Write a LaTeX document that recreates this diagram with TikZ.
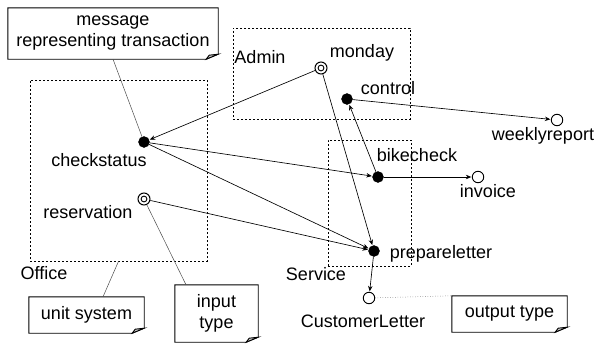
\documentclass[tikz,border=0pt]{standalone}
\usepackage{fontspec}
\setmainfont{Liberation Sans}
\usetikzlibrary{arrows.meta}

% note outline with a folded bottom-right corner
\newcommand\dogear[1]{%
  \draw[noteline] (#1.north west) -- (#1.north east) -- ([yshift=5pt]#1.south east)
    -- ([xshift=-12pt]#1.south east) -- (#1.south west) -- cycle;
  \filldraw[noteline, fill=gray!40] ([xshift=-12pt]#1.south east)
    -- ([xshift=-9pt,yshift=4pt]#1.south east) -- ([yshift=5pt]#1.south east) -- cycle;}

\begin{document}
\begin{tikzpicture}[x=1pt,y=-1pt,
  txt/.style={font=\fontsize{18}{21}\selectfont},
  lbl/.style={txt, anchor=base, inner sep=0},
  grp/.style={draw=black, dash pattern=on 2.4pt off 1.6pt, line width=0.7pt, inner sep=0},
  full/.style={circle, fill=black, draw=black, minimum size=11pt, inner sep=0},
  hollow/.style={circle, fill=white, draw=black, line width=0.9pt, minimum size=11.5pt, inner sep=0},
  twin/.style={circle, fill=white, draw=black, line width=1pt, minimum size=12pt, inner sep=0,
    path picture={\draw[line width=0.9pt] (path picture bounding box.center) circle (2.9pt);}},
  flow/.style={draw=black, line width=0.65pt, -{Stealth[length=5.5pt,width=4.5pt]}, shorten >=0.5pt},
  notebox/.style={txt, align=center, inner sep=0},
  noteline/.style={draw=black, line width=0.9pt, line join=miter},
  notelink/.style={draw=gray!60!black, line width=0.5pt},
]
\useasboundingbox (0,0) rectangle (597,343);

% unit boxes
\node[grp, minimum width=177pt, minimum height=181pt] (office) at (118.5,170.5) {};
\node[grp, minimum width=177pt, minimum height=91pt] (admin) at (321.5,73.5) {};
\node[grp, minimum width=83pt, minimum height=126pt] (service) at (369.5,203) {};

\node[lbl] (officeL) at (44,279) {Office};
\node[lbl] (adminL) at (260,63.5) {Admin};
\node[lbl] (serviceL) at (316,280) {Service};

% transactions and types
\node[twin] (monday) at (321,68) {};
\node[full] (control) at (347,99) {};
\node[hollow] (weekly) at (557,120) {};
\node[full] (checkstatus) at (144,142) {};
\node[twin] (reservation) at (144,199) {};
\node[full] (bikecheck) at (378,177) {};
\node[hollow] (invoice) at (478,177) {};
\node[full] (prepare) at (374,251) {};
\node[hollow] (customer) at (369,298) {};

\node[lbl] (mondayL) at (362,57.5) {monday};
\node[lbl] (controlL) at (388,94) {control};
\node[lbl] (weeklyL) at (543,140.5) {weeklyreport};
\node[lbl] (checkstatusL) at (99,166) {checkstatus};
\node[lbl] (reservationL) at (88,218) {reservation};
\node[lbl] (bikecheckL) at (417,161) {bikecheck};
\node[lbl] (invoiceL) at (488,197.5) {invoice};
\node[lbl] (prepareL) at (441,258.5) {prepareletter};
\node[lbl] (customerL) at (363,327) {CustomerLetter};

% message flow
\draw[flow] (monday) -- (checkstatus);
\draw[flow] (monday) -- (prepare);
\draw[flow] (control) -- (weekly);
\draw[flow] (bikecheck) -- (control);
\draw[flow] (checkstatus) -- (bikecheck);
\draw[flow] (checkstatus) -- (prepare);
\draw[flow] (reservation) -- (prepare);
\draw[flow] (bikecheck) -- (invoice);
\draw[flow] (prepare) -- (customer);

% annotations
\node[notebox, minimum width=210pt, minimum height=51pt] (msg) at (113,33.5) {message\\representing transaction};
\node[notebox, minimum width=115pt, minimum height=36pt] (unit) at (86.5,315) {unit system};
\node[notebox, minimum width=83pt, minimum height=57pt] (input) at (216.5,313.5) {input\\type};
\node[notebox, minimum width=115pt, minimum height=36pt] (output) at (509.5,314) {output type};
\dogear{msg}
\dogear{unit}
\dogear{input}
\dogear{output}

\draw[notelink] (msg.south) -- (checkstatus);
\draw[notelink] ([xshift=16.5pt]unit.north) -- (office.south);
\draw[notelink] ([xshift=-30.5pt]input.north) -- (reservation);
\draw[notelink, dotted] (customer) -- (output.north west);
\end{tikzpicture}
\end{document}
